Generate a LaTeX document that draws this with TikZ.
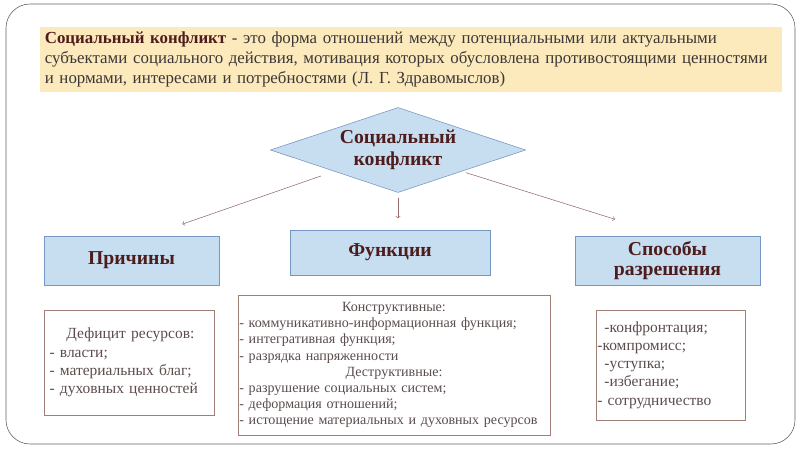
\documentclass[tikz,border=0pt]{standalone}
\usepackage{fontspec}
\setmainfont{Liberation Serif}
\usetikzlibrary{shapes.geometric,calc,positioning}
\setlength\parindent{0pt}

\definecolor{titlebrown}{RGB}{78,28,28}
\definecolor{textbrown}{RGB}{92,76,76}
\definecolor{deftext}{RGB}{60,55,55}
\definecolor{boxline}{RGB}{160,128,118}
\definecolor{bluefill}{RGB}{198,222,240}
\definecolor{blueline}{RGB}{118,150,196}
\definecolor{defbg}{RGB}{252,234,188}
\definecolor{frameline}{RGB}{95,95,95}
\definecolor{arrowline}{RGB}{150,108,108}

\begin{document}
\begin{tikzpicture}[
  x=0.025cm, y=-0.025cm,
  head/.style={draw=blueline, fill=bluefill, text=titlebrown, align=center, inner sep=0pt,
    font=\fontsize{14}{14.4}\selectfont\bfseries},
  listbox/.style={draw=boxline, text=textbrown, align=left, inner ysep=2pt},
  arrow/.style={->, draw=arrowline, thin}
]
\useasboundingbox (0,0) rectangle (800,451);
\draw[frameline, rounded corners=0.6cm] (6,4) rectangle (795,444);

% definition
\node[fill=defbg, text=deftext, align=left, inner xsep=3.5pt,
  text width=18.55cm-7pt, minimum height=1.625cm,
  font=\fontsize{12}{14.2}\selectfont] (def) at (411,59.5)
  {\textcolor{titlebrown}{\textbf{Социальный конфликт}} - это форма отношений между потенциальными или актуальными\\
   субъектами социального действия, мотивация которых обусловлена противостоящими ценностями\\
   и нормами, интересами и потребностями (Л. Г. Здравомыслов)};

% centre
\node[diamond, aspect=3, draw=blueline, fill=bluefill, text=titlebrown, align=center,
  inner sep=0pt, minimum width=6.375cm, minimum height=2.125cm,
  font=\fontsize{14}{15.6}\selectfont\bfseries] (conf) at (398,150) {Социальный\\конфликт};

% headings
\node[head, minimum width=4.375cm, minimum height=1.225cm] (cause) at (131.5,260.5) {Причины};
\node[head, minimum width=5cm, minimum height=1.125cm] (func) at (390,252.5) {Функции};
\node[head, minimum width=4.625cm, minimum height=1.225cm] (way) at (667.5,260.5) {Способы\\разрешения};

% lists
\node[listbox, inner xsep=4pt, text width=4.25cm-8pt, minimum height=2.625cm,
  font=\fontsize{11}{12.9}\selectfont] (causelist) at (129,362.5)
  {\hspace*{12pt}Дефицит ресурсов:\\
   - власти;\\
   - материальных благ;\\
   - духовных ценностей};
\node[listbox, inner xsep=1pt, text width=7.8cm-2pt, minimum height=3.5cm,
  font=\fontsize{10}{11.5}\selectfont] (funclist) at (394,365)
  {\hfill Конструктивные:\hfill\null\\
   - коммуникативно-информационная функция;\\
   - интегративная функция;\\
   - разрядка напряженности\\
   \hfill Деструктивные:\hfill\null\\
   - разрушение социальных систем;\\
   - деформация отношений;\\
   - истощение материальных и духовных ресурсов};
\node[listbox, inner xsep=1pt, text width=3.725cm-2pt, minimum height=2.75cm,
  font=\fontsize{11}{13}\selectfont] (waylist) at (670.5,365)
  {\hspace*{5pt}-конфронтация;\\
   -компромисс;\\
   \hspace*{5pt}-уступка;\\
   \hspace*{5pt}-избегание;\\
   - сотрудничество};

\draw[arrow, shorten <=10pt, shorten >=25pt] (conf.south west) -- ($(cause.north)!.2!(cause.north east)$);
\draw[arrow, shorten <=3.5pt, shorten >=8pt] (conf.south) -- (conf.south |- func.north);
\draw[arrow, shorten <=3pt, shorten >=39pt] (conf.south east) -- (way.north);
\end{tikzpicture}
\end{document}
